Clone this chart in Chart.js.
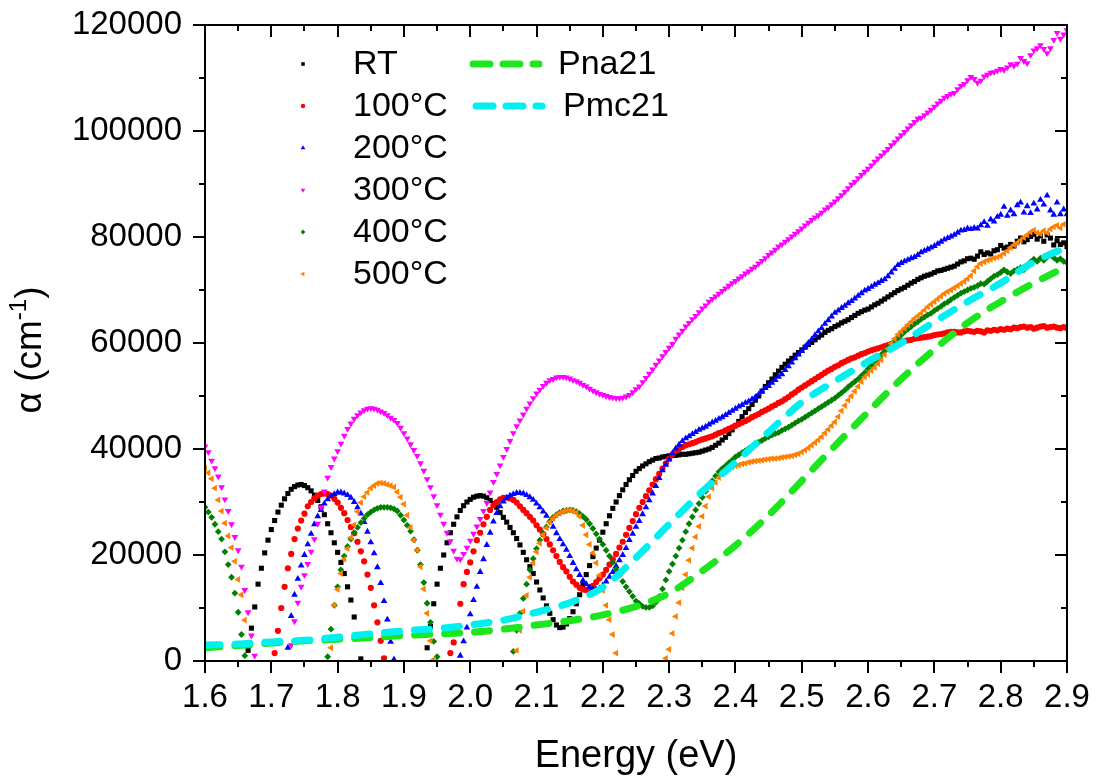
<!DOCTYPE html>
<html>
<head>
<meta charset="utf-8">
<script src="https://cdn.jsdelivr.net/npm/chart.js@4.4.1/dist/chart.umd.min.js"></script>
<style>
html,body{margin:0;padding:0;background:#fff;}
#c{display:block;}
</style>
</head>
<body>
<canvas id="c" width="1097" height="782" style="width:1097px;height:782px"></canvas>
<script>
// Photon energy (eV) of each measured point
const energy = [
1.600,1.605,1.610,1.615,1.620,1.625,1.630,1.635,1.640,1.645,1.650,1.655,1.660,1.665,1.670,1.675,1.680,1.685,1.690,1.695,
1.700,1.705,1.710,1.715,1.720,1.725,1.730,1.735,1.740,1.745,1.750,1.755,1.760,1.765,1.770,1.775,1.780,1.785,1.790,1.795,
1.800,1.805,1.810,1.815,1.820,1.825,1.830,1.835,1.840,1.845,1.850,1.855,1.860,1.865,1.870,1.875,1.880,1.885,1.890,1.895,
1.900,1.905,1.910,1.915,1.920,1.925,1.930,1.935,1.940,1.945,1.950,1.955,1.960,1.965,1.970,1.975,1.980,1.985,1.990,1.995,
2.000,2.005,2.010,2.015,2.020,2.025,2.030,2.035,2.040,2.045,2.050,2.055,2.060,2.065,2.070,2.075,2.080,2.085,2.090,2.095,
2.100,2.105,2.110,2.115,2.120,2.125,2.130,2.135,2.140,2.145,2.150,2.155,2.160,2.165,2.170,2.175,2.180,2.185,2.190,2.195,
2.200,2.205,2.210,2.215,2.220,2.225,2.230,2.235,2.240,2.245,2.250,2.255,2.260,2.265,2.270,2.275,2.280,2.285,2.290,2.295,
2.300,2.305,2.310,2.315,2.320,2.325,2.330,2.335,2.340,2.345,2.350,2.355,2.360,2.365,2.370,2.375,2.380,2.385,2.390,2.395,
2.400,2.405,2.410,2.415,2.420,2.425,2.430,2.435,2.440,2.445,2.450,2.455,2.460,2.465,2.470,2.475,2.480,2.485,2.490,2.495,
2.500,2.505,2.510,2.515,2.520,2.525,2.530,2.535,2.540,2.545,2.550,2.555,2.560,2.565,2.570,2.575,2.580,2.585,2.590,2.595,
2.600,2.605,2.610,2.615,2.620,2.625,2.630,2.635,2.640,2.645,2.650,2.655,2.660,2.665,2.670,2.675,2.680,2.685,2.690,2.695,
2.700,2.705,2.710,2.715,2.720,2.725,2.730,2.735,2.740,2.745,2.750,2.755,2.760,2.765,2.770,2.775,2.780,2.785,2.790,2.795,
2.800,2.805,2.810,2.815,2.820,2.825,2.830,2.835,2.840,2.845,2.850,2.855,2.860,2.865,2.870,2.875,2.880,2.885,2.890,2.895,
2.900];

// Absorption coefficient, in units of 1000 cm^-1 (null = below zero, not shown)
const n = null;
const alphaRT = [
n,n,n,n,n,n,n,n,n,n,n,n,n,2.0,6.2,10.2,14.5,17.5,20.4,22.8,
24.8,26.5,28.1,29.4,30.6,31.6,32.4,32.9,33.2,33.3,33.1,32.7,32.1,31.3,30.3,29.1,27.6,25.9,24.2,22.3,
20.5,18.6,16.5,14,11.5,8.3,4.3,0.4,n,n,n,n,n,n,n,n,n,n,n,n,
n,n,n,n,n,n,n,2.5,6.5,10.8,14.5,17.5,20,22.3,24.2,25.8,27.2,28.4,29.3,30,
30.5,30.9,31.1,31.2,31.1,30.8,30.3,29.7,29,28,27.1,26.2,25.2,24.2,23.1,21.9,20.5,19.1,17.8,16.5,
14.9,13.4,11.9,10.4,9,7.8,6.8,6.3,6.4,7,8,9.3,10.8,12.5,14.4,16.3,18,19.7,21.3,22.8,
24.3,25.9,27.4,28.8,30,31.2,32.3,33.3,34.2,35,35.8,36.3,36.8,37.2,37.6,37.9,38.2,38.3,38.5,38.6,
38.7,38.8,38.8,38.9,39,39,39.1,39.2,39.3,39.4,39.6,39.8,40,40.3,40.7,41.1,41.7,42.2,42.9,43.6,
44.4,45.2,46.1,46.9,47.6,48.4,49.2,50,50.9,51.8,52.5,53.2,54,54.7,55.4,56,56.6,57.1,57.7,58.2,
58.7,59.2,59.7,60.1,60.6,61.1,61.5,62,62.4,62.7,63.1,63.4,63.8,64.1,64.4,64.8,65.2,65.6,65.9,66.2,
66.4,66.8,67.2,67.5,67.9,68.3,68.7,69.1,69.5,69.9,70.2,70.5,70.9,71.3,71.6,72,72.3,72.6,72.8,73,
73.3,73.6,73.7,73.9,74.1,74.3,74.5,74.9,75.3,75.5,75.9,76,75.8,76.4,77.2,76.7,77,76.8,77.4,77.6,
78.4,77.9,78.1,78.6,78.3,79.2,79.8,79.1,79.5,80.1,80.5,79.6,80.2,79.2,80.4,79.8,78.5,79.3,78.6,78.9,
78.2];

const alpha100 = [
n,n,n,n,n,n,n,n,n,n,n,n,n,n,n,n,n,n,n,n,
n,1.5,5.7,10,14,17.5,20.2,23,25,26.5,27.8,29.2,30,30.7,31.2,31.5,31.6,31.5,31.2,30.6,
29.9,28.9,27.9,26.6,25.3,24.1,22.5,20.7,18.8,16.3,13.8,10.5,7.3,3.8,0.5,n,n,n,n,n,
n,n,n,n,n,n,n,n,n,n,n,n,n,n,1.5,3.5,6.4,10.8,14.5,16.8,
18.6,20.7,22.8,24.2,25.8,27.2,28.5,29.4,30,30.5,30.8,30.8,30.7,30.4,29.9,29.2,28.5,27.9,27.2,26.5,
25.6,24.8,23.9,23,22,20.9,19.8,18.7,17.7,16.9,15.9,15,14.4,13.8,13.5,13.4,13.7,14.2,14.9,15.6,
16.3,17.2,18.2,19.2,20.2,21.4,22.5,23.8,25.1,26.4,27.7,28.9,30,31.1,32.2,33.3,34.3,35.3,36.3,37.3,
38.2,39,39.6,40,40.4,40.7,40.9,41.1,41.3,41.6,41.8,42,42.2,42.4,42.7,43,43.2,43.5,43.8,44.1,
44.4,44.7,45,45.3,45.6,46,46.3,46.6,47,47.3,47.6,48,48.3,48.7,49,49.4,49.8,50.3,50.7,51.2,
51.6,52,52.4,52.8,53.2,53.6,54,54.4,54.8,55.1,55.5,55.8,56.2,56.5,56.8,57.1,57.3,57.6,57.9,58.1,
58.4,58.6,58.8,59,59.2,59.4,59.6,59.8,60,60.1,60.3,60.4,60.5,60.6,60.8,60.9,61,61.1,61.2,61.3,
61.5,61.6,61.7,61.8,62,62.1,62.1,62,62,62.2,62.3,62.2,62.1,62.3,62.2,62,62.4,62.3,62.5,62.4,
62.6,62.5,62.7,62.6,62.9,62.8,63,63.1,62.9,63,62.7,62.9,63.1,63.2,62.9,63,63.1,62.9,62.8,63,
62.8];

const alpha200 = [
n,n,n,n,n,n,n,n,n,n,n,n,n,n,n,n,n,n,n,n,
n,n,n,n,n,2.5,8.5,12.5,15.5,18,20,22,24,25.8,27.3,28.5,29.7,30.5,31.1,31.5,
31.8,31.8,31.6,31.3,30.8,30,29,27.8,26.2,24.4,22.4,20.3,17.7,14.7,11.3,7.8,3.6,0.3,n,n,
n,n,n,n,n,n,n,n,n,n,n,n,n,n,n,n,n,1,3.7,6.3,
8.8,11.5,14,16.8,19.2,21.9,24.2,26.3,27.9,29.2,30.1,30.8,31.2,31.5,31.7,31.7,31.6,31.3,30.9,30.4,
29.7,29,28.2,27.4,26.4,25.3,24.1,23,22,21,19.8,18.5,17.3,16.2,15.2,14.5,13.9,13.5,13.5,13.7,
14.3,15,15.9,16.8,17.9,19,20,21.3,22.8,24,25.3,26.4,27.7,29,30.3,31.6,33,34.5,36,37,
38,39.2,40.1,40.8,41.5,42,42.4,42.8,43.2,43.6,43.9,44.2,44.6,45,45.3,45.7,46,46.4,46.8,47.2,
47.6,48,48.3,48.7,49,49.4,49.8,50.3,50.9,51.5,51.9,52.5,53,53.6,54.1,54.9,55.6,56.3,57.1,57.8,
58.5,59.3,60,60.7,61.5,62.2,62.8,63.6,64.3,65,65.7,66.1,66.6,67,67.5,67.9,68.4,68.9,69.4,69.9,
70.2,70.6,71,71.3,71.7,72,72.6,73.3,74,74.7,75.1,75.4,75.7,76,76.2,76.6,77.1,77.4,77.7,78,
78.3,78.7,79.1,79.5,79.8,80.1,80.4,80.8,81.2,81.3,81.6,81.5,81.7,81.6,82.2,82.8,82.1,83.3,82.9,83.8,
84.2,85.7,84,85,84.3,86,86.5,84.6,85.8,84.5,86.3,85.2,87,86.1,87.8,85,84.2,86.5,84.3,85.2,
84.3];

const alpha300 = [
40.5,39.4,37.8,36.4,34.8,32.8,30.5,28.3,25.8,23.4,20.9,17.8,13.4,9.2,4.8,1,n,n,n,n,
n,n,n,n,n,n,3,7.5,11,14,16.2,18.3,20.6,23,25.9,29,32,34.6,36.6,38.2,
39.6,41,42.5,43.8,44.8,45.7,46.4,46.9,47.3,47.6,47.7,47.6,47.4,47.1,46.8,46.4,45.9,45.5,44.9,44,
43,42,40.9,39.8,38.7,37.3,35.9,34.3,32.8,31.1,29.4,27.6,25.9,24.2,22.6,20.8,19.3,19.2,20.2,21.4,
22.7,24,25.4,26.8,28.3,29.8,31.8,33.8,35.3,36.9,38.5,40,41.5,43,44.3,45.4,46.5,47.6,48.6,49.6,
50.5,51.2,51.9,52.5,53,53.2,53.5,53.6,53.6,53.5,53.3,53,52.8,52.5,52.1,51.8,51.4,51,50.7,50.4,
50.2,50,49.8,49.7,49.6,49.6,49.7,49.9,50.2,50.7,51.3,51.8,52.6,53.4,54.2,55,55.9,56.7,57.5,58.3,
59.1,59.8,60.8,61.6,62.3,63.1,63.8,64.5,65.1,65.8,66.5,67.1,67.8,68.3,68.8,69.3,69.8,70.3,70.8,71.3,
71.7,72.2,72.6,73.1,73.5,74,74.4,75,75.5,76,76.6,77.1,77.6,78.2,78.6,79.1,79.6,80.1,80.6,81.1,
81.6,82.2,82.7,83.2,83.7,84.1,84.6,85.2,85.6,86.2,86.7,87.3,87.9,88.5,89.2,89.9,90.4,91.1,91.7,92.3,
92.9,93.5,94.2,94.8,95.4,96,96.6,97.3,97.9,98.6,99.2,99.8,100.5,101.1,101.7,102.3,102.5,103,103.5,104,
104.6,105.2,105.7,106.3,106.6,107,107.2,107.9,108.5,108.9,109.6,110.2,109.8,109.1,109.5,110.3,110.6,111,111.1,111.4,
111.7,111.5,112,112.6,112.3,112.7,113.8,113.2,112.8,114.3,115.2,115.6,116.2,115.5,114.7,115.6,117.2,118.5,117.4,118.2,
119];

const alpha400 = [
29,28.1,27.1,25.8,24.4,23,20.6,18.2,15.8,12.8,9.2,5,1,n,n,n,n,n,n,n,
n,n,n,n,n,n,n,n,n,n,n,n,n,n,n,n,n,0.8,6,10.5,
14,17.2,19.8,21.6,23,24.2,25.2,26.1,26.9,27.6,28.1,28.5,28.8,29,29,29,28.9,28.7,28.3,27.5,
26.6,25.6,24.5,22.9,20.9,18.2,14.8,10.9,7.3,3.7,0.8,n,n,n,n,n,n,n,n,n,
n,n,n,n,n,n,n,n,n,n,n,n,n,1.8,5.8,9,11.8,14.5,17.2,19.3,
21.2,22.8,24.1,25.3,26.3,27.1,27.6,28,28.3,28.4,28.5,28.4,28.2,27.8,27.3,26.7,25.9,25,24,23,
22,20.9,19.8,18.6,17.3,16.2,15,14,13.1,12.2,11.3,10.8,10.3,10.1,10.1,10.4,11.1,12.2,13.6,15.3,
16.9,18.3,19.8,21.3,22.8,24.4,25.9,27.2,28.5,29.7,30.9,32,33,34,34.9,35.7,36.3,36.8,37.4,37.9,
38.5,38.9,39.3,39.7,40.1,40.5,40.9,41.3,41.6,42,42.3,42.6,42.9,43.1,43.5,43.8,44.1,44.5,44.9,45.3,
45.6,46,46.4,46.8,47.2,47.6,48,48.4,48.8,49.2,49.6,50.1,50.6,51.1,51.7,52.2,52.7,53.2,53.8,54.4,
55.1,55.8,56.5,57.1,57.8,58.4,59.1,59.7,60.4,61,61.5,62.1,62.6,63.1,63.6,64,64.5,64.9,65.3,65.6,
66.1,66.5,66.9,67.4,67.7,68.2,68.6,69,69.4,69.7,70,70.3,70.5,70.8,71.2,71.1,71.6,72.1,72.6,72.9,
73.3,73.8,73.4,73.1,73.6,73.9,74.2,73.8,74.5,75.3,75.8,75.4,76,75.6,76.2,76.6,76.1,75.6,75.9,75.4,
75.1];

const alpha500 = [
36.4,35.5,34.4,32.6,30.4,28.3,26,23.6,21.4,18.8,15.4,12.5,7.7,3.4,n,n,n,n,n,n,
n,n,n,n,n,n,n,n,n,n,n,n,n,n,n,n,n,n,2.5,10.5,
13.5,16.5,19.2,21.2,23.3,25.7,28.2,29.9,31,31.8,32.6,33.1,33.5,33.6,33.5,33.3,33.1,32.8,31.9,30.9,
29.6,27.5,25.2,22.8,20.9,17.8,13.6,9,3.8,0.3,n,n,n,n,n,n,n,n,n,n,
n,n,n,n,n,n,n,n,n,n,n,n,n,n,2,5.8,9.4,12.4,15.8,18.5,
20.6,22.2,23.8,25.1,26.2,26.9,27.5,27.9,28.2,28.4,28.5,28.3,28,27.3,25.6,23.8,22,20.4,18.5,16.2,
13.3,10.5,7.8,5,1.5,n,n,n,n,n,n,n,n,n,n,n,n,n,n,0.5,
2.2,5.2,8.4,11,13.8,16.3,19,21.3,23.4,25.4,27.3,29.2,31,32.6,33.7,34.6,35.4,35.9,36.3,36.6,
36.8,37,37.2,37.3,37.5,37.6,37.7,37.8,37.9,38,38.1,38.2,38.2,38.3,38.4,38.5,38.6,38.7,38.9,39.1,
39.4,39.8,40.2,40.7,41.2,41.7,42.3,43,43.7,44.4,45.1,46.1,47.2,48.2,49.2,50,50.9,51.8,52.7,53.6,
54.1,54.8,55.4,56.1,56.8,57.8,58.9,59.9,60.8,61.6,62.2,62.8,63.4,64,64.6,65.1,65.6,66.2,66.8,67.3,
67.8,68.3,68.8,69.3,69.7,70,70.4,70.8,71.2,71.6,72.1,72.7,73.6,74.4,75,75.3,75.6,75.8,76,76.2,
76.4,76.9,77.4,78,78.5,78.9,79.4,79.9,80.4,80.9,81.3,80.8,80.6,81.2,80.8,81.5,81.9,82.2,81.7,82.4,
82.6];

// Calculated curves (1000 cm^-1)
const fitEnergy = [1.6,1.65,1.7,1.75,1.8,1.85,1.9,1.95,2.0,2.05,2.1,2.15,2.2,2.25,2.3,2.35,2.4,2.45,2.5,2.55,2.6,2.65,2.7,2.75,2.8,2.85,2.9];
const fitPna21 = [2.5,2.9,3.4,3.8,4.1,4.4,4.8,5.1,5.4,6.0,6.8,7.6,8.7,10.3,12.8,17,21.8,27.5,34,40.6,47,53.2,58.8,63.8,67.8,71.3,74.5];
const fitPmc21 = [3.0,3.2,3.6,3.9,4.5,5.1,5.7,6.1,6.8,7.7,9.2,11,13.9,19.5,25.8,32,37.5,43.2,48.8,52.8,56.5,60,64,67.8,71.3,75.3,78.1];

const seriesNames = ['RT','100°C','200°C','300°C','400°C','500°C'];
const fitNames = ['Pna21','Pmc21'];

const FONT = '"Liberation Sans", Arial, sans-serif';

const toPoints = (xs, ys) => xs.map((x,i) => ys[i] === null ? null : {x: x, y: ys[i]*1000}).filter(p => p);

const markerDefs = [
  {data: alphaRT,  color:'#000000', style:'rect',     rot:0,   r:3.6},
  {data: alpha100, color:'#ff0000', style:'circle',   rot:0,   r:3.1},
  {data: alpha200, color:'#0000ff', style:'triangle', rot:0,   r:3.9},
  {data: alpha300, color:'#ff00ff', style:'triangle', rot:180, r:3.9},
  {data: alpha400, color:'#008000', style:'rectRot',  rot:0,   r:3.4},
  {data: alpha500, color:'#ff8000', style:'triangle', rot:270, r:3.9}
];
const fitDefs = [
  {data: fitPna21, color:'#1ee61e'},
  {data: fitPmc21, color:'#00f0f0'}
];
const DASH = [15, 15];

const datasets = [];
markerDefs.forEach((m, i) => {
  datasets.push({
    type:'scatter', label: seriesNames[i], data: toPoints(energy, m.data),
    pointStyle: m.style, rotation: m.rot, pointRadius: m.r,
    backgroundColor: m.color, borderColor: m.color, pointBorderWidth: 0, borderWidth: 0,
    order: 7 - i
  });
});
fitDefs.forEach((f, i) => {
  datasets.push({
    type:'line', label: fitNames[i], data: toPoints(fitEnergy, f.data),
    borderColor: f.color, borderWidth: 7, borderDash: DASH, borderCapStyle:'round',
    pointRadius: 0, fill: false, cubicInterpolationMode:'monotone', showLine: true,
    order: 1 - i
  });
});

function drawMarker(ctx, style, rot, x, y, r, color){
  ctx.save();
  ctx.fillStyle = color;
  ctx.translate(x, y);
  ctx.rotate(rot * Math.PI / 180);
  ctx.beginPath();
  if (style === 'rect') { const s = r * Math.SQRT1_2; ctx.rect(-s, -s, 2*s, 2*s); }
  else if (style === 'circle') { ctx.arc(0, 0, r, 0, Math.PI*2); }
  else if (style === 'rectRot') { ctx.moveTo(0,-r); ctx.lineTo(r,0); ctx.lineTo(0,r); ctx.lineTo(-r,0); ctx.closePath(); }
  else if (style === 'triangle') {
    for (let k=0;k<3;k++){ const a = k*2*Math.PI/3; const px = Math.sin(a)*r, py = -Math.cos(a)*r; if(k===0) ctx.moveTo(px,py); else ctx.lineTo(px,py);} ctx.closePath();
  }
  ctx.fill();
  ctx.restore();
}

const framePlugin = {
  id: 'frame',
  afterDatasetsDraw(chart){
    const {ctx, chartArea: a, scales} = chart;
    const xs = scales.x, ys = scales.y;
    ctx.save();
    ctx.strokeStyle = '#000';
    ctx.lineWidth = 2;
    ctx.lineCap = 'butt';
    ctx.strokeRect(a.left, a.top, a.right - a.left, a.bottom - a.top);
    const MAJ = 12, MIN = 6;
    ctx.beginPath();
    const xt = xs.ticks.map(t => t.value);
    for (let i = 0; i < xt.length; i++){
      const p = Math.round(xs.getPixelForValue(xt[i]));
      ctx.moveTo(p, a.bottom); ctx.lineTo(p, a.bottom + MAJ);
      ctx.moveTo(p, a.top); ctx.lineTo(p, a.top + MAJ);
      if (i < xt.length - 1){
        const pm = Math.round(xs.getPixelForValue((xt[i] + xt[i+1]) / 2));
        ctx.moveTo(pm, a.bottom); ctx.lineTo(pm, a.bottom + MIN);
        ctx.moveTo(pm, a.top); ctx.lineTo(pm, a.top + MIN);
      }
    }
    const yt = ys.ticks.map(t => t.value);
    for (let i = 0; i < yt.length; i++){
      const p = Math.round(ys.getPixelForValue(yt[i]));
      ctx.moveTo(a.left - MAJ, p); ctx.lineTo(a.left, p);
      ctx.moveTo(a.right - MAJ, p); ctx.lineTo(a.right, p);
      if (i < yt.length - 1){
        const pm = Math.round(ys.getPixelForValue((yt[i] + yt[i+1]) / 2));
        ctx.moveTo(a.left - MIN, pm); ctx.lineTo(a.left, pm);
        ctx.moveTo(a.right - MIN, pm); ctx.lineTo(a.right, pm);
      }
    }
    ctx.stroke();
    ctx.restore();
  },
  afterDraw(chart){
    const ctx = chart.ctx;
    const a = chart.chartArea;
    ctx.save();
    ctx.fillStyle = '#000';
    // x title
    ctx.font = '38px ' + FONT;
    ctx.textAlign = 'center';
    ctx.textBaseline = 'alphabetic';
    ctx.fillText('Energy (eV)', (a.left + a.right) / 2, 767);
    // y title
    ctx.save();
    ctx.translate(41, 350);
    ctx.rotate(-Math.PI / 2);
    const big = '37px ' + FONT, small = '24px ' + FONT;
    ctx.font = big; const w1 = ctx.measureText('\u03B1 (cm').width; const w3 = ctx.measureText(')').width;
    ctx.font = small; const w2 = ctx.measureText('-1').width;
    const x0 = -(w1 + w2 + w3) / 2;
    ctx.textAlign = 'left';
    ctx.font = big; ctx.fillText('\u03B1 (cm', x0, 0);
    ctx.font = small; ctx.fillText('-1', x0 + w1, -15);
    ctx.font = big; ctx.fillText(')', x0 + w1 + w2, 0);
    ctx.restore();
    // legend
    ctx.font = '34px ' + FONT;
    ctx.textAlign = 'left';
    ctx.textBaseline = 'middle';
    const rowY = [64, 106, 148, 190, 232, 274];
    markerDefs.forEach((m, i) => {
      drawMarker(ctx, m.style, m.rot, 303, rowY[i], m.r * 0.7, m.color);
      ctx.fillStyle = '#000';
      ctx.fillText(seriesNames[i], 353, rowY[i] + 1);
    });
    const lineRows = [{y:64, x1:473, x2:539, tx:558}, {y:106, x1:476, x2:542, tx:563}];
    fitDefs.forEach((f, i) => {
      const L = lineRows[i];
      ctx.save();
      ctx.strokeStyle = f.color; ctx.lineWidth = 7; ctx.lineCap = 'round';
      ctx.setLineDash([17, 13]);
      ctx.beginPath(); ctx.moveTo(L.x1, L.y); ctx.lineTo(L.x2, L.y); ctx.stroke();
      ctx.restore();
      ctx.fillStyle = '#000';
      ctx.fillText(fitNames[i], L.tx, L.y + 1);
    });
    ctx.restore();
  }
};

new Chart(document.getElementById('c'), {
  type: 'scatter',
  data: { datasets },
  options: {
    responsive: false,
    animation: false,
    devicePixelRatio: 1,
    events: [],
    layout: { padding: { top: 25, right: 30, left: 0, bottom: 0 } },
    plugins: { legend: { display: false }, tooltip: { enabled: false }, title: { display: false } },
    scales: {
      x: {
        type: 'linear', position: 'bottom', min: 1.6, max: 2.9,
        grid: { display: false, drawTicks: false },
        border: { display: false },
        ticks: {
          stepSize: 0.1, autoSkip: false, maxRotation: 0, padding: 17,
          color: '#000', font: { family: FONT, size: 33 },
          callback: v => Number(v).toFixed(1)
        },
        afterFit: s => { s.height = 121; s.paddingLeft = 0; s.paddingRight = 0; }
      },
      y: {
        type: 'linear', position: 'left', min: 0, max: 120000,
        grid: { display: false, drawTicks: false },
        border: { display: false },
        ticks: {
          stepSize: 20000, padding: 23, color: '#000',
          font: { family: FONT, size: 33 },
          callback: v => String(Math.round(v))
        },
        afterFit: s => { s.width = 205; s.paddingTop = 0; s.paddingBottom = 0; }
      }
    }
  },
  plugins: [framePlugin]
});
</script>
</body>
</html>
